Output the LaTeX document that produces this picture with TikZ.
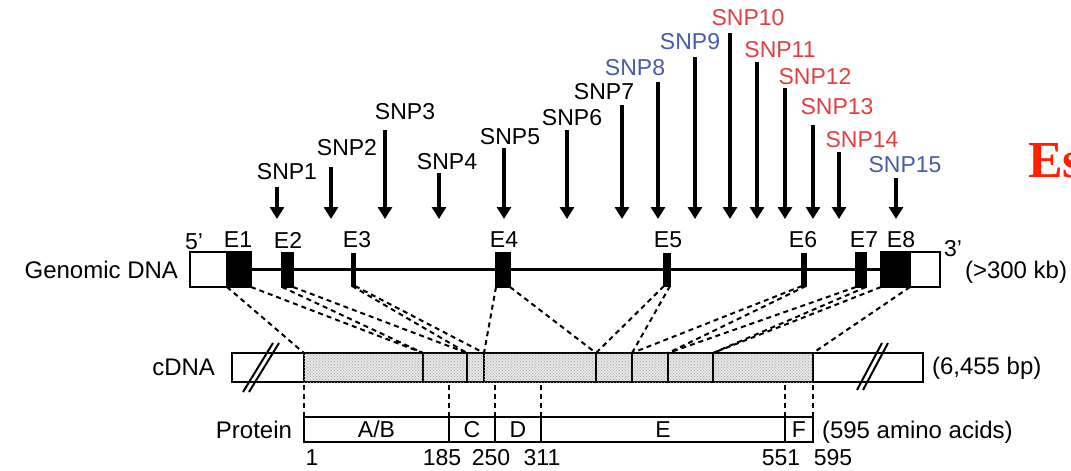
\documentclass[tikz,border=0pt]{standalone}
\usepackage{fontspec}
\setmainfont{Liberation Sans}
\newfontfamily\serifb{Liberation Serif}
\usetikzlibrary{arrows.meta,patterns}
\definecolor{snpblue}{RGB}{72,92,170}
\definecolor{snpred}{RGB}{226,64,64}
\definecolor{esred}{RGB}{255,32,0}
\begin{document}
\begin{tikzpicture}[x=1pt,y=-1pt,
  lbl/.style={font=\fontsize{23}{26}\selectfont, inner sep=0pt, outer sep=0pt},
  biglbl/.style={font=\fontsize{24}{27}\selectfont, inner sep=0pt, outer sep=0pt},
  box/.style={draw, line width=2.8pt, inner sep=0pt, outer sep=0pt, anchor=north west, fill=white},
  exon/.style={box, fill=black},
  seg/.style={box, fill=gray!20, postaction={pattern=crosshatch dots, pattern color=gray!70}},
  dom/.style={box, font=\fontsize{23}{26}\selectfont},
  link/.style={dash pattern=on 5pt off 4pt, line width=2pt},
  snparrow/.style={line width=3.2pt, -{Triangle[width=14pt,length=12pt]}},
  slash/.style={line width=2pt}
]
\clip (0,0) rectangle (1071,471);
\fill[white] (0,0) rectangle (1071,471);

% ---------- SNP arrows ----------
\foreach \n/\x/\t/\lx/\ly/\c in {
  1/277/187/287/172/black, 2/331/167/347/148/black, 3/385/130/405/112/black,
  4/439/173/447/162/black, 5/504/148/510/137/black, 6/567/130/572/118/black,
  7/622/105/604/92/black, 8/658/82/635/68/snpblue, 9/695/57/690/42/snpblue,
  10/730/33/748/18/snpred, 11/757/62/780/50/snpred, 12/785/88/815/77/snpred,
  13/813/125/837/107/snpred, 14/839/152/862/140/snpred, 15/896/178/905/165/snpblue}{
  \node[lbl, text=\c] (snp\n) at (\lx,\ly) {SNP\n};
  \coordinate (snpa\n) at (\x,\t);
  \coordinate (snpb\n) at (\x,219);
  \draw[snparrow] (snpa\n) -- (snpb\n);
}

% ---------- Genomic DNA ----------
\node[biglbl, anchor=east] (gdna) at (178,270) {Genomic DNA};
\node[box, minimum width=37pt, minimum height=35pt] (lbox) at (190,252) {};
\node[box, minimum width=30pt, minimum height=35pt] (rbox) at (910,252) {};
\draw[line width=2.6pt] (lbox.east) -- (rbox.west);
\node[exon, minimum width=24pt, minimum height=35pt] (e1) at (227,252) {};
\node[exon, minimum width=11pt, minimum height=34pt] (e2) at (282,253) {};
\node[exon, minimum width=3pt, minimum height=32pt] (e3) at (352,254) {};
\node[exon, minimum width=14pt, minimum height=34pt] (e4) at (496,253) {};
\node[exon, minimum width=6pt, minimum height=32pt] (e5) at (664,254) {};
\node[exon, minimum width=4pt, minimum height=32pt] (e6) at (802,254) {};
\node[exon, minimum width=10pt, minimum height=34pt] (e7) at (856,253) {};
\node[exon, minimum width=29pt, minimum height=35pt] (e8) at (881,252) {};

\node[lbl] (t5) at (194,242) {5'};
\node[lbl] (t3) at (953,249) {3'};
\foreach \n/\x in {1/238,2/288,3/357,4/504,5/668,6/803,7/864,8/901}{
  \node[lbl] (le\n) at (\x,240) {E\n};
}
\node[biglbl, anchor=west] (kb) at (965,272) {(>300 kb)};

% ---------- cDNA ----------
\node[biglbl, anchor=east] (cdnal) at (215,367) {cDNA};
\node[box, minimum width=691pt, minimum height=29pt] (cdna) at (232,353) {};
\node[seg, minimum width=119pt, minimum height=29pt] (s1) at (304,353) {};
\node[seg, minimum width=44pt, minimum height=29pt] (s2) at (423,353) {};
\node[seg, minimum width=17pt, minimum height=29pt] (s3) at (467,353) {};
\node[seg, minimum width=112pt, minimum height=29pt] (s4) at (484,353) {};
\node[seg, minimum width=36pt, minimum height=29pt] (s5) at (596,353) {};
\node[seg, minimum width=36pt, minimum height=29pt] (s6) at (632,353) {};
\node[seg, minimum width=45pt, minimum height=29pt] (s7) at (668,353) {};
\node[seg, minimum width=100pt, minimum height=29pt] (s8) at (713,353) {};
\node[biglbl, anchor=west] (bp) at (932,368) {(6,455 bp)};

% slash marks
\coordinate (sla1) at (243,392); \coordinate (slb1) at (273,343);
\coordinate (sla2) at (249,392); \coordinate (slb2) at (279,343);
\coordinate (sla3) at (857,390); \coordinate (slb3) at (882,343);
\coordinate (sla4) at (863,390); \coordinate (slb4) at (888,343);
\draw[slash] (sla1) -- (slb1);
\draw[slash] (sla2) -- (slb2);
\draw[slash] (sla3) -- (slb3);
\draw[slash] (sla4) -- (slb4);

% exon -> cDNA links
\foreach \n in {1,...,8}{
  \draw[link] (e\n.south west) -- (s\n.north west);
  \draw[link] (e\n.south east) -- (s\n.north east);
}

% ---------- Protein ----------
\node[biglbl, anchor=east] (protl) at (292,430) {Protein};
\node[dom, minimum width=145pt, minimum height=25pt] (dab) at (304,417) {A/B};
\node[dom, minimum width=46pt, minimum height=25pt] (dc) at (449,417) {C};
\node[dom, minimum width=46pt, minimum height=25pt] (dd) at (495,417) {D};
\node[dom, minimum width=244pt, minimum height=25pt] (de) at (541,417) {E};
\node[dom, minimum width=28pt, minimum height=25pt] (df) at (785,417) {F};
\node[biglbl, anchor=west] (aa) at (822,432) {(595 amino acids)};

\foreach \d in {dab,dc,dd,de,df}{
  \draw[link] (\d.north west) -- (\d.north west |- cdna.south);
}
\draw[link] (df.north east) -- (df.north east |- cdna.south);

\foreach \v/\x in {1/312,185/442,250/491,311/542,551/781,595/833}{
  \node[lbl] (num\v) at (\x,458) {\v};
}

% ---------- cut-off heading ----------
\node[anchor=base west, inner sep=0pt, text=esred,
      font=\serifb\bfseries\fontsize{52}{52}\selectfont] (es) at (1028,177) {Es};
\end{tikzpicture}
\end{document}
